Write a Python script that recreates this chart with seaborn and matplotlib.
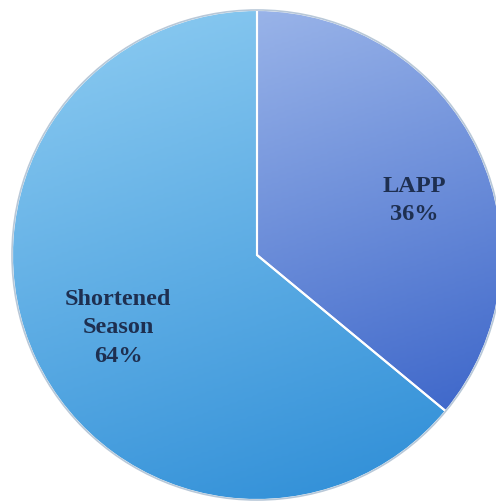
import numpy as np
import matplotlib
matplotlib.use("Agg")
import matplotlib.pyplot as plt
from matplotlib.colors import LinearSegmentedColormap
import seaborn as sns

# data
categories = ["LAPP", "Shortened\nSeason"]
shares = [36, 64]
top_colors = ["#a9c1ee", "#8fcdf2"]
bottom_colors = ["#2c58c4", "#2a8bd6"]

sns.set_theme(style="white")
plt.rcParams["font.family"] = ["Liberation Serif", "DejaVu Serif"]

fig = plt.figure(figsize=(4.96, 5.01), dpi=100)
fig.patch.set_facecolor("white")
lim = 1.01
ax = fig.add_axes([(257 - 245 * lim) / 496, (501 - 255 - 245 * lim) / 501,
                   490 * lim / 496, 490 * lim / 501])

wedges, _ = ax.pie(
    shares,
    startangle=90,
    counterclock=False,
    radius=1,
    colors=bottom_colors,
    wedgeprops=dict(edgecolor="white", linewidth=1.5),
)

# gradient fill inside each wedge
for w, c_top, c_bot in zip(wedges, top_colors, bottom_colors):
    cmap = LinearSegmentedColormap.from_list("g", [c_bot, c_top])
    yy, xx = np.mgrid[-1:1:200j, -1:1:200j]
    grad = (yy - 0.35 * xx + 1.35) / 2.7
    im = ax.imshow(grad, cmap=cmap, extent=[-1, 1, -1, 1], origin="lower",
                   vmin=0, vmax=1, zorder=w.get_zorder() + 0.1, interpolation="bilinear")
    im.set_clip_path(w)

# separators and outline on top
for w in wedges:
    w.set_facecolor("none")
    w.set_zorder(5)
outline = plt.Circle((0, 0), 1, fill=False, edgecolor="#b8c8d8", linewidth=1.2, zorder=6)
ax.add_patch(outline)

# labels
dists = [0.68, 0.64]
shift = [-6, 2.5]
for w, cat, pct, d, s in zip(wedges, categories, shares, dists, shift):
    ang = np.deg2rad((w.theta1 + w.theta2) / 2 + s)
    ax.text(d * np.cos(ang), d * np.sin(ang), f"{cat}\n{pct}%",
            ha="center", va="center", fontsize=17.5, fontweight="bold",
            color="#1e2f50", linespacing=1.45, zorder=10)

ax.set_xlim(-lim, lim)
ax.set_ylim(-lim, lim)
ax.set_aspect("equal")
ax.axis("off")

fig.savefig("out.png", dpi=100, facecolor="white")
